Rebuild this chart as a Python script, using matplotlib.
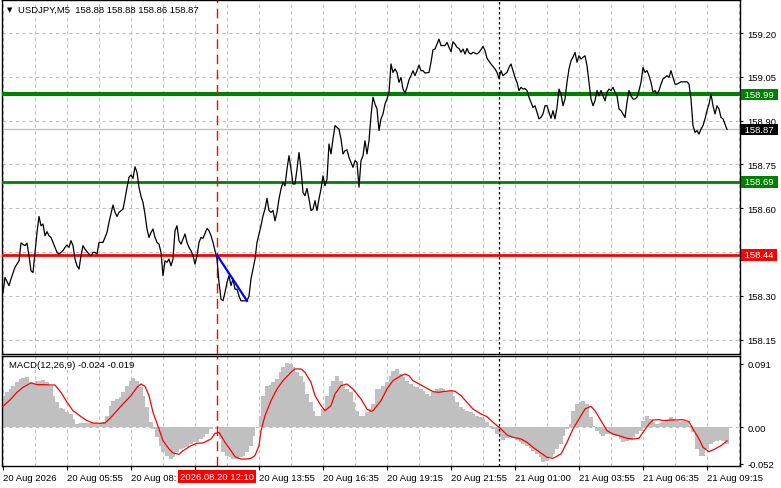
import matplotlib
matplotlib.use('Agg')
import matplotlib.pyplot as plt
import matplotlib.transforms as mtrans

plt.rcParams['font.family'] = ['Liberation Sans', 'DejaVu Sans']
FS = 6.8

# ---- data: M5 bars, x = bar number from the left edge ----
price_bar = [0, 1, 3, 4, 6, 8, 9, 11, 12, 13, 14, 15, 16, 17, 18, 19, 20, 21, 22, 23,
             24, 26, 27, 28, 30, 31, 32, 33, 34, 35, 36, 37, 38, 39, 40, 41, 43, 44, 45, 46,
             47, 48, 50, 52, 53, 55, 56, 57, 58, 60, 61, 62, 63, 64, 65, 66, 67, 68, 69, 70,
             71, 72, 73, 74, 75, 76, 77, 78, 79, 80, 81, 82, 83, 84, 85, 86, 87, 88, 89, 90,
             91, 92, 93, 94, 95, 96, 97, 98, 99, 100, 102, 103, 104, 105, 106, 107, 108, 109, 110, 111,
             112, 113, 114, 115, 116, 117, 118, 119, 120, 122, 123, 124, 126, 127, 128, 129, 130, 131, 132, 133,
             134, 135, 136, 137, 138, 139, 140, 141, 142, 143, 144, 145, 146, 147, 148, 149, 150, 151, 152, 153,
             154, 155, 156, 157, 158, 159, 160, 161, 162, 163, 164, 165, 166, 167, 168, 169, 170, 171, 172, 173,
             174, 175, 176, 177, 178, 179, 180, 181, 182, 183, 184, 185, 186, 187, 188, 189, 190, 191, 192, 193,
             194, 195, 196, 197, 198, 199, 200, 201, 202, 203, 204, 205, 206, 207, 208, 209, 210, 211, 213, 214,
             215, 216, 217, 218, 219, 221, 222, 223, 224, 225, 226, 227, 228, 229, 230, 231, 232, 233, 234, 235,
             237, 238, 239, 240, 241, 242, 244, 246, 247, 248, 249, 250, 251, 252, 253, 254, 255, 256, 257, 258,
             259, 260, 261, 262, 263, 264, 265, 266, 267, 268, 269, 270, 271, 272, 273, 274, 275, 276, 277, 278,
             279, 280, 281, 282, 283, 284, 285, 286, 287, 288, 289, 290, 291, 292, 293, 294, 295, 296, 297, 298,
             299, 300, 301, 302, 303, 304, 305, 306, 307, 308, 309, 310, 311, 312, 313, 314, 315, 316, 317, 318,
             319, 320, 321, 322, 323, 324, 325, 326, 327, 328, 329, 330, 331, 332, 333, 334, 335, 336, 337, 339,
             340, 342, 343, 344, 345, 346, 347, 348, 349, 350, 351, 352, 353, 354, 355, 356, 357, 358, 359, 360,
             361, 362]
price_val = [158.312, 158.363, 158.335, 158.358, 158.398, 158.420, 158.481, 158.472, 158.481, 158.437,
             158.386, 158.380, 158.449, 158.517, 158.572, 158.540, 158.546, 158.506, 158.520, 158.506,
             158.500, 158.466, 158.449, 158.443, 158.455, 158.466, 158.474, 158.466, 158.489, 158.472,
             158.426, 158.403, 158.392, 158.437, 158.472, 158.460, 158.443, 158.437, 158.449, 158.449,
             158.443, 158.483, 158.483, 158.517, 158.552, 158.611, 158.586, 158.572, 158.586, 158.597,
             158.632, 158.671, 158.706, 158.714, 158.702, 158.742, 158.723, 158.671, 158.641, 158.620,
             158.580, 158.529, 158.500, 158.517, 158.529, 158.500, 158.483, 158.477, 158.449, 158.369,
             158.420, 158.415, 158.426, 158.403, 158.426, 158.523, 158.540, 158.489, 158.477, 158.495,
             158.512, 158.483, 158.466, 158.455, 158.437, 158.409, 158.437, 158.483, 158.500, 158.497,
             158.531, 158.523, 158.506, 158.483, 158.455, 158.426, 158.346, 158.289, 158.283, 158.312,
             158.346, 158.369, 158.335, 158.358, 158.323, 158.323, 158.300, 158.283, 158.283, 158.283,
             158.300, 158.358, 158.426, 158.483, 158.512, 158.540, 158.574, 158.597, 158.634, 158.592,
             158.586, 158.592, 158.557, 158.586, 158.632, 158.666, 158.689, 158.677, 158.734, 158.780,
             158.734, 158.683, 158.683, 158.734, 158.791, 158.734, 158.654, 158.643, 158.668, 158.632,
             158.592, 158.597, 158.626, 158.592, 158.632, 158.666, 158.711, 158.677, 158.700, 158.820,
             158.786, 158.837, 158.883, 158.877, 158.871, 158.837, 158.786, 158.797, 158.800, 158.774,
             158.757, 158.740, 158.763, 158.757, 158.672, 158.763, 158.780, 158.831, 158.786, 158.831,
             158.917, 158.980, 158.957, 158.940, 158.866, 158.906, 158.923, 158.957, 158.974, 158.997,
             159.094, 159.065, 159.077, 159.065, 159.031, 159.048, 159.008, 158.994, 159.014, 159.040,
             159.054, 159.071, 159.054, 159.071, 159.090, 159.071, 159.071, 159.063, 159.065, 159.100,
             159.143, 159.145, 159.162, 159.179, 159.157, 159.157, 159.168, 159.151, 159.136, 159.170,
             159.162, 159.151, 159.147, 159.134, 159.145, 159.128, 159.147, 159.132, 159.128, 159.134,
             159.128, 159.134, 159.143, 159.154, 159.140, 159.113, 159.094, 159.077, 159.065, 159.045,
             159.071, 159.054, 159.060, 159.065, 159.082, 159.094, 159.071, 159.048, 159.031, 159.003,
             159.014, 159.008, 159.010, 159.003, 158.980, 158.963, 158.945, 158.951, 158.928, 158.906,
             158.911, 158.923, 158.951, 158.951, 158.928, 158.908, 158.934, 158.906, 158.945, 159.008,
             158.991, 158.951, 158.974, 159.031, 159.077, 159.105, 159.117, 159.134, 159.100, 159.122,
             159.111, 159.117, 159.122, 159.088, 159.031, 158.974, 158.951, 158.968, 159.003, 158.985,
             159.003, 158.985, 158.968, 158.997, 159.008, 159.003, 159.014, 158.997, 158.985, 158.940,
             158.934, 158.923, 158.911, 158.963, 159.003, 158.985, 158.974, 158.974, 158.980, 159.003,
             159.031, 159.082, 159.065, 159.071, 159.054, 159.031, 158.997, 159.003, 158.991, 159.003,
             159.025, 159.043, 159.048, 159.054, 159.048, 159.071, 159.048, 159.025, 159.025, 159.033,
             159.033, 159.033, 159.025, 158.974, 158.883, 158.860, 158.866, 158.854, 158.871, 158.883,
             158.906, 158.934, 158.957, 158.991, 158.951, 158.923, 158.951, 158.940, 158.911, 158.906,
             158.888, 158.870]

# MACD histogram (main line) and signal line
hist_bar = [0, 2, 4, 5, 7, 9, 10, 12, 14, 15, 17, 19, 20, 22, 24, 25, 27, 29, 30, 32,
            34, 35, 37, 39, 40, 42, 44, 45, 47, 49, 50, 52, 54, 55, 57, 59, 60, 62, 64, 65,
            67, 69, 70, 72, 74, 75, 77, 79, 80, 82, 84, 85, 87, 89, 90, 92, 94, 95, 97, 99,
            100, 102, 104, 105, 107, 109, 110, 112, 114, 115, 117, 119, 120, 122, 124, 125, 127, 129, 130, 132,
            134, 135, 137, 139, 140, 142, 144, 145, 147, 149, 150, 152, 154, 155, 157, 159, 160, 162, 164, 165,
            167, 169, 170, 172, 174, 175, 177, 179, 180, 182, 184, 185, 187, 189, 190, 192, 194, 195, 197, 199,
            200, 202, 204, 205, 207, 209, 210, 212, 214, 215, 217, 219, 220, 222, 224, 225, 227, 229, 230, 232,
            234, 235, 237, 239, 240, 242, 244, 245, 247, 249, 250, 252, 254, 255, 257, 259, 260, 262, 264, 265,
            267, 269, 270, 272, 274, 275, 277, 279, 280, 282, 284, 285, 287, 289, 290, 292, 294, 295, 297, 299,
            300, 302, 304, 305, 307, 309, 310, 312, 314, 315, 317, 319, 320, 322, 324, 325, 327, 329, 330, 332,
            334, 335, 337, 339, 340, 342, 344, 345, 347, 349, 350, 352, 354, 355, 357, 359, 360, 362]
hist_val = [0.0455, 0.0502, 0.0550, 0.0598, 0.0645, 0.0693, 0.0702, 0.0717, 0.0645, 0.0621,
            0.0669, 0.0669, 0.0683, 0.0645, 0.0598, 0.0455, 0.0360, 0.0274, 0.0264, 0.0217,
            0.0193, 0.0121, 0.0050, 0.0064, 0.0064, 0.0064, 0.0064, 0.0064, 0.0064, 0.0064,
            0.0083, 0.0169, 0.0312, 0.0383, 0.0407, 0.0431, 0.0502, 0.0598, 0.0669, 0.0702,
            0.0669, 0.0574, 0.0455, 0.0288, 0.0074, -0.0021, -0.0140, -0.0260, -0.0355, -0.0402,
            -0.0450, -0.0426, -0.0355, -0.0307, -0.0298, -0.0283, -0.0236, -0.0202, -0.0202, -0.0164,
            -0.0140, -0.0093, -0.0021, 0.0002, -0.0021, -0.0164, -0.0355, -0.0402, -0.0426, -0.0450,
            -0.0450, -0.0426, -0.0402, -0.0355, -0.0260, -0.0117, 0.0002, 0.0169, 0.0455, 0.0588,
            0.0607, 0.0645, 0.0693, 0.0788, 0.0860, 0.0921, 0.0907, 0.0860, 0.0788, 0.0740,
            0.0645, 0.0479, 0.0360, 0.0240, 0.0169, 0.0169, 0.0264, 0.0455, 0.0598, 0.0669,
            0.0731, 0.0669, 0.0598, 0.0550, 0.0502, 0.0360, 0.0240, 0.0169, 0.0169, 0.0217,
            0.0264, 0.0336, 0.0550, 0.0550, 0.0598, 0.0645, 0.0740, 0.0812, 0.0836, 0.0764,
            0.0717, 0.0669, 0.0621, 0.0598, 0.0574, 0.0550, 0.0526, 0.0479, 0.0455, 0.0502,
            0.0550, 0.0560, 0.0550, 0.0526, 0.0526, 0.0455, 0.0360, 0.0288, 0.0264, 0.0240,
            0.0217, 0.0193, 0.0169, 0.0145, 0.0121, 0.0074, 0.0026, -0.0021, -0.0093, -0.0140,
            -0.0174, -0.0155, -0.0140, -0.0155, -0.0174, -0.0202, -0.0236, -0.0260, -0.0298, -0.0331,
            -0.0379, -0.0426, -0.0498, -0.0474, -0.0426, -0.0379, -0.0307, -0.0236, -0.0117, -0.0021,
            0.0050, 0.0240, 0.0336, 0.0360, 0.0383, 0.0336, 0.0145, 0.0026, -0.0045, -0.0093,
            -0.0117, -0.0093, -0.0093, -0.0107, -0.0126, -0.0164, -0.0212, -0.0188, -0.0174, -0.0140,
            -0.0093, -0.0045, 0.0098, 0.0169, 0.0121, 0.0074, 0.0050, 0.0064, 0.0074, 0.0098,
            0.0145, 0.0121, 0.0098, 0.0083, 0.0098, 0.0074, 0.0026, -0.0069, -0.0307, -0.0402,
            -0.0402, -0.0307, -0.0236, -0.0212, -0.0188, -0.0174, -0.0188, -0.0240]
signal_bar = [0, 4, 7, 10, 14, 17, 20, 24, 26, 29, 32, 35, 39, 42, 45, 49, 51, 54, 57, 60,
              64, 67, 69, 71, 73, 75, 78, 80, 83, 85, 88, 90, 94, 97, 100, 104, 106, 108, 109, 111,
              114, 116, 119, 122, 124, 126, 128, 129, 131, 134, 137, 140, 144, 146, 149, 151, 154, 156, 159, 161,
              164, 166, 169, 172, 175, 179, 182, 184, 185, 189, 192, 195, 199, 201, 203, 205, 209, 212, 215, 218,
              220, 224, 226, 229, 232, 235, 239, 242, 245, 249, 252, 255, 259, 262, 265, 269, 272, 275, 279, 282,
              285, 289, 291, 294, 296, 299, 302, 305, 309, 312, 315, 318, 320, 323, 325, 328, 330, 334, 337, 340,
              343, 345, 348, 350, 353, 355, 359, 362]
signal_val = [0.0302, 0.0407, 0.0502, 0.0574, 0.0636, 0.0612, 0.0612, 0.0607, 0.0607, 0.0502,
              0.0360, 0.0240, 0.0155, 0.0098, 0.0064, 0.0060, 0.0064, 0.0145, 0.0240, 0.0336,
              0.0455, 0.0574, 0.0621, 0.0588, 0.0455, 0.0217, -0.0021, -0.0188, -0.0307, -0.0364,
              -0.0383, -0.0331, -0.0260, -0.0226, -0.0221, -0.0164, -0.0083, -0.0069, -0.0117, -0.0212,
              -0.0331, -0.0417, -0.0450, -0.0450, -0.0440, -0.0402, -0.0260, -0.0045, 0.0169, 0.0383,
              0.0550, 0.0669, 0.0788, 0.0836, 0.0836, 0.0788, 0.0645, 0.0455, 0.0312, 0.0240,
              0.0312, 0.0479, 0.0598, 0.0621, 0.0550, 0.0407, 0.0264, 0.0231, 0.0240, 0.0383,
              0.0550, 0.0669, 0.0740, 0.0764, 0.0740, 0.0669, 0.0607, 0.0560, 0.0512, 0.0502,
              0.0512, 0.0526, 0.0517, 0.0455, 0.0360, 0.0264, 0.0193, 0.0155, 0.0074, -0.0021,
              -0.0107, -0.0140, -0.0164, -0.0212, -0.0283, -0.0364, -0.0426, -0.0440, -0.0379, -0.0212,
              -0.0021, 0.0169, 0.0264, 0.0302, 0.0240, 0.0098, -0.0045, -0.0093, -0.0126, -0.0155,
              -0.0164, -0.0155, -0.0069, 0.0050, 0.0107, 0.0112, 0.0098, 0.0107, 0.0107, 0.0112,
              0.0083, -0.0021, -0.0164, -0.0283, -0.0345, -0.0321, -0.0260, -0.0190]

# levels drawn on the chart
level_prices = [158.99, 158.69, 158.44]
level_colors = ['#008000', '#008000', '#ff0000']
level_widths = [3.0, 2.0, 2.0]
last_price = 158.87

trend_bar = [107, 122]
trend_val = [158.44, 158.283]

event_bar = 107.15          # 2026.08.20 12:10
event_label = '2026.08.20 12:10'
day_sep_bar = 248.15        # 21 Aug 00:00

price_ticks = [158.15, 158.30, 158.45, 158.60, 158.75, 158.90, 159.05, 159.20]
time_bars = [0, 32, 64, 96, 128, 160, 192, 224, 256, 288, 320, 352]
# 08:35 is cut off and 11:15 hidden by the red time marker, as on the terminal
time_labels = ['20 Aug 2026', '20 Aug 05:55', '20 Aug 08:', '',
               '20 Aug 13:55', '20 Aug 16:35', '20 Aug 19:15', '20 Aug 21:55',
               '21 Aug 01:00', '21 Aug 03:55', '21 Aug 06:35', '21 Aug 09:15']
macd_ticks = [0.091, 0.0, -0.052]
macd_tick_labels = ['0.091', '0.00', '-0.052']

GRID = '#c0c0c0'
W, H = 781, 489

fig = plt.figure(figsize=(W / 100, H / 100), dpi=100)
ax1 = fig.add_axes([2 / W, 1 - 355 / H, 738 / W, 354 / H])
ax2 = fig.add_axes([2 / W, 1 - 467 / H, 738 / W, 110 / H])

for ax in (ax1, ax2):
    ax.set_xlim(-0.5, 368.5)
    ax.set_axisbelow(True)
    for s in ax.spines.values():
        s.set_color('black')
        s.set_linewidth(1.0)
    ax.set_xticks(time_bars)
    ax.set_xticks([b + 16 for b in time_bars], minor=True)
    ax.grid(True, axis='x', which='both', color=GRID, linestyle=(0, (3, 3)), linewidth=0.8)
    ax.yaxis.tick_right()
    ax.tick_params(axis='y', direction='out', length=2.5, width=0.8, pad=3,
                   labelsize=FS, colors='black')
    ax.tick_params(axis='x', which='minor', length=0)
    ax.axvline(event_bar, color='red', linestyle=(0, (7, 4)), linewidth=1.0, zorder=4)
    ax.axvline(day_sep_bar, color='black', linestyle=(0, (2, 2)), linewidth=0.9, zorder=4)

# ---- price panel ----
ax1.set_ylim(158.101, 159.313)
ax1.set_yticks(price_ticks)
ax1.set_yticklabels(['' if abs(t - 158.45) < 1e-6 else f'{t:.2f}' for t in price_ticks])
ax1.grid(True, axis='y', color=GRID, linestyle=(0, (3, 3)), linewidth=0.8)
ax1.tick_params(axis='x', which='major', length=0, labelbottom=False)

ax1.axhline(last_price, color=GRID, linewidth=1.0, zorder=2)
for p, c, lw in zip(level_prices, level_colors, level_widths):
    ax1.axhline(p, color=c, linewidth=lw, zorder=3)
ax1.plot(price_bar, price_val, color='black', linewidth=0.9, zorder=5)
ax1.plot(trend_bar, trend_val, color='#0000ff', linewidth=1.6, zorder=6)

ytr = ax1.get_yaxis_transform()
for p, c in zip(level_prices + [last_price], level_colors + ['black']):
    ax1.text(1.003, p, f' {p:.2f} ', transform=ytr, ha='left', va='center',
             fontsize=FS, color='white', clip_on=False, zorder=10,
             bbox=dict(boxstyle='square,pad=0.12', fc=c, ec='none'))

fig.text(10 / W, 1 - 10 / H, '\u25bc', fontsize=5, family='DejaVu Sans',
         ha='center', va='center')
fig.text(18 / W, 1 - 10 / H, 'USDJPY,M5  158.88 158.88 158.86 158.87',
         fontsize=FS, ha='left', va='center')

# ---- MACD panel ----
ax2.set_ylim(-0.055, 0.1021)
ax2.bar(hist_bar, hist_val, width=2.2, color='#c0c0c0', linewidth=0, zorder=2)
ax2.plot(signal_bar, signal_val, color='red', linewidth=0.9, zorder=3)
ax2.axhline(0, color=GRID, linestyle=(0, (3, 3)), linewidth=0.8, zorder=1)
ax2.set_yticks(macd_ticks)
ax2.set_yticklabels(macd_tick_labels)
ax2.set_xticklabels(time_labels, ha='left')
ax2.tick_params(axis='x', which='major', direction='out', length=3, width=0.8,
                pad=2, labelsize=FS)
ax2.text(7 / 738, 1 - 9 / 110, 'MACD(12,26,9) -0.024 -0.019', transform=ax2.transAxes,
         fontsize=FS, ha='left', va='center')

xtr = mtrans.blended_transform_factory(ax2.transData, ax2.transAxes)
ax2.text(event_bar, -0.095, event_label, transform=xtr, ha='center', va='center',
         fontsize=FS, color='white', clip_on=False, zorder=10,
         bbox=dict(boxstyle='square,pad=0.2', fc='#ff0000', ec='none'))

fig.savefig('out.png', dpi=100)
